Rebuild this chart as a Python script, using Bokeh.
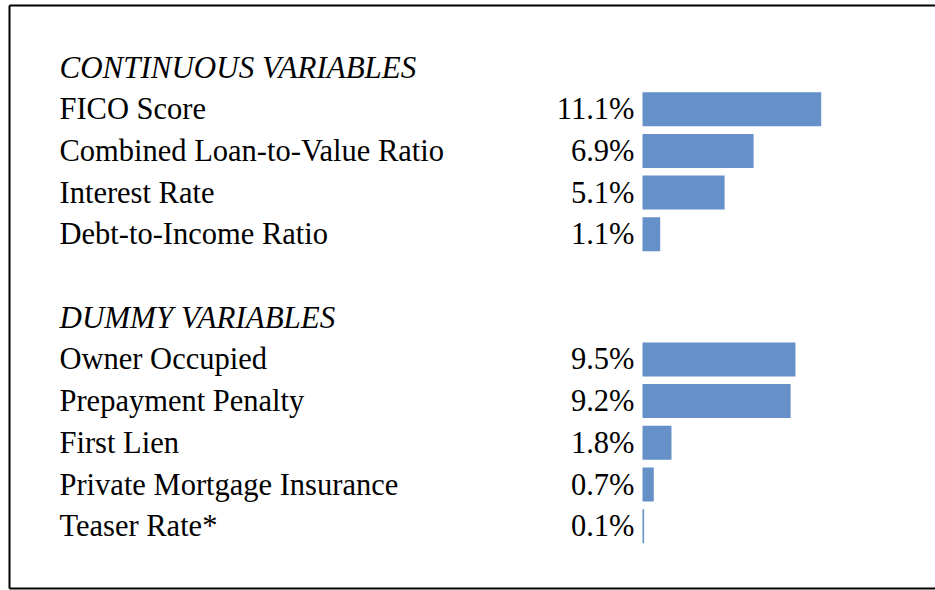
from bokeh.plotting import figure
from bokeh.models import Range1d, ColumnDataSource
from bokeh.core.properties import value
from bokeh.embed import file_html
from bokeh.resources import INLINE

# ---- data ----
cont_vars = ["FICO Score", "Combined Loan-to-Value Ratio", "Interest Rate", "Debt-to-Income Ratio"]
cont_vals = [11.1, 6.9, 5.1, 1.1]
dummy_vars = ["Owner Occupied", "Prepayment Penalty", "First Lien", "Private Mortgage Insurance", "Teaser Rate*"]
dummy_vals = [9.5, 9.2, 1.8, 0.7, 0.1]
headers = ["CONTINUOUS VARIABLES", "DUMMY VARIABLES"]

# ---- layout ----
W, H = 935, 590
row_px = 41.7
row0_px = 67.0
px_per_pct = 16.1
zero_px = 642.0
x_start = -zero_px / px_per_pct
x_end = (W - zero_px) / px_per_pct
y_top = -row0_px / row_px

def fx(px):
    return x_start + px / px_per_pct

def fy(py):
    return y_top + py / row_px

# row indices
cont_rows = [1 + i for i in range(len(cont_vars))]
dummy_hdr_row = len(cont_vars) + 2
dummy_rows = [dummy_hdr_row + 1 + i for i in range(len(dummy_vars))]
header_rows = [0, dummy_hdr_row]

names = cont_vars + dummy_vars
vals = cont_vals + dummy_vals
rows = cont_rows + dummy_rows
labels = ["%.1f%%" % v for v in vals]

src = ColumnDataSource(dict(name=names, val=vals, row=rows, lab=labels,
                            lx=[fx(59)] * len(names)))
hsrc = ColumnDataSource(dict(name=headers, row=header_rows, lx=[fx(59)] * len(headers)))

p = figure(width=W, height=H, output_backend="svg", toolbar_location=None,
           x_range=Range1d(x_start, x_end), y_range=Range1d(fy(H), fy(0)),
           min_border=0, min_border_left=0, min_border_right=0,
           min_border_top=0, min_border_bottom=0)
p.axis.visible = False
p.grid.visible = False
p.outline_line_color = None
p.background_fill_color = "white"
p.border_fill_color = "white"

bar_h = 34 / row_px
p.hbar(y="row", left=0, right="val", height=bar_h, source=src,
       fill_color="#6590C8", line_color=None)

font = value("Liberation Serif")
fs = "30.5px"
p.text(x="lx", y="row", text="name", source=src, text_font=font,
       text_font_size=fs, text_align="left", text_baseline="middle",
       text_color="#000000")
p.text(x=0, y="row", text="lab", source=src, text_font=font,
       text_font_size=fs, text_align="right", text_baseline="middle",
       x_offset=-8, text_color="#000000")
p.text(x="lx", y="row", text="name", source=hsrc, text_font=font,
       text_font_size="31px", text_font_style="italic", text_align="left",
       text_baseline="middle", text_color="#000000")

# frame border (left, top, bottom; right edge runs off the page)
p.segment(x0=[fx(9), fx(9), fx(9)], y0=[fy(5), fy(5), fy(588)],
          x1=[fx(9), fx(W + 5), fx(W + 5)], y1=[fy(588), fy(5), fy(588)],
          line_color="black", line_width=2)

open("out.html", "w").write(file_html(p, INLINE))
